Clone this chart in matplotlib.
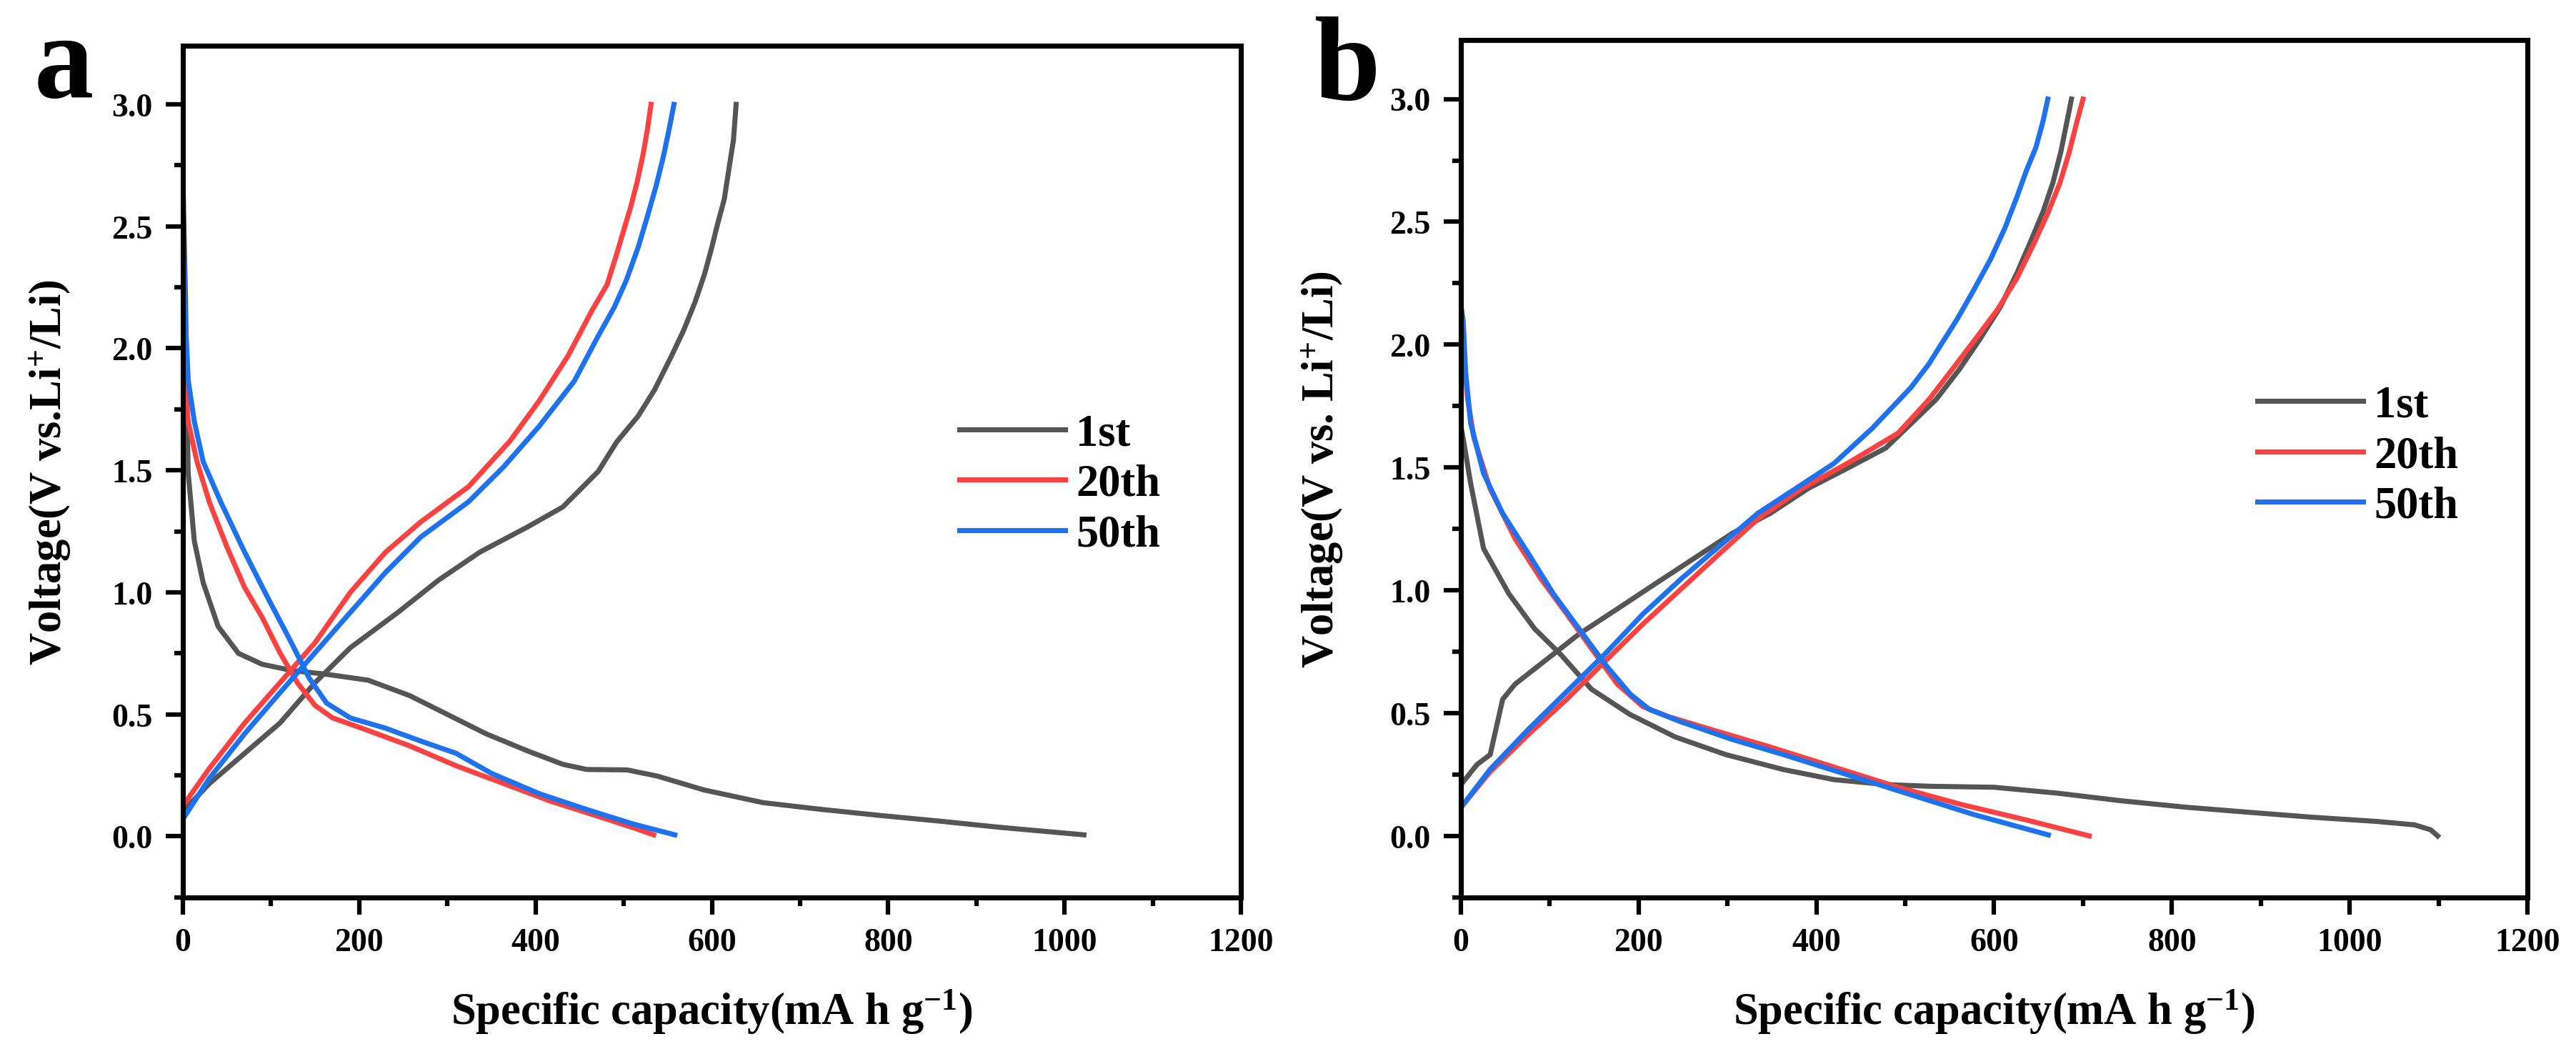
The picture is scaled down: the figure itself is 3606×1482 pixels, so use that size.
import numpy as np
import matplotlib
matplotlib.use("Agg")
import matplotlib.pyplot as plt
from matplotlib.ticker import MultipleLocator

plt.rcParams['font.family'] = ['Liberation Serif', 'DejaVu Serif']
plt.rcParams['font.weight'] = 'bold'
plt.rcParams['mathtext.fontset'] = 'custom'
plt.rcParams['mathtext.rm'] = 'Liberation Serif:bold'
plt.rcParams['mathtext.bf'] = 'Liberation Serif:bold'
plt.rcParams['mathtext.default'] = 'rm'

"""
Data read off the reference picture (capacity in mA h g-1, voltage in V)
"""
# panel a, 1st cycle
a1_dis_cap = [0.5, 3, 4.5, 6, 13, 23, 40, 63, 90, 123, 163, 210, 257, 297, 344, 391, 431, 458, 504, 538,
              591, 658, 725, 792, 859, 926, 1022]
a1_dis_v = [2.62, 2.2, 1.8, 1.49, 1.21, 1.04, 0.86, 0.75, 0.705, 0.68, 0.664, 0.64, 0.577, 0.505, 0.42, 0.35,
            0.295, 0.274, 0.272, 0.247, 0.19, 0.138, 0.11, 0.085, 0.062, 0.037, 0.006]
a1_chg_cap = [3, 30, 70, 110, 150, 190, 244, 290, 337, 391, 431, 471, 492, 516.5, 535, 554, 568, 581, 592,
              600, 606, 614, 619, 624.5, 627.5]
a1_chg_v = [0.113, 0.216, 0.34, 0.464, 0.63, 0.773, 0.918, 1.05, 1.165, 1.268, 1.35, 1.495, 1.616, 1.723, 1.83,
            1.967, 2.074, 2.19, 2.308, 2.415, 2.503, 2.61, 2.727, 2.854, 3.0]

# panel a, 20th cycle
a20_dis_cap = [0.5, 1.5, 3, 6, 16, 30, 50, 70, 90, 110, 130, 150, 170, 203, 257, 310, 364, 417, 471, 511, 534]
a20_dis_v = [2.05, 2.03, 1.82, 1.70, 1.536, 1.37, 1.186, 1.02, 0.897, 0.753, 0.629, 0.536, 0.485, 0.443, 0.371,
             0.289, 0.216, 0.144, 0.082, 0.035, 0.006]
a20_chg_cap = [1, 30, 70, 110, 150, 190, 230, 270, 324, 371, 404, 437, 464, 481, 492, 500, 508, 515, 522, 527,
               531]
a20_chg_v = [0.13, 0.278, 0.464, 0.629, 0.794, 1.0, 1.165, 1.289, 1.433, 1.62, 1.784, 1.97, 2.155, 2.26, 2.386,
             2.484, 2.58, 2.678, 2.795, 2.90, 3.0]

# panel a, 50th cycle
a50_dis_cap = [0.5, 1.5, 3, 6, 13, 23, 43, 70, 96, 123, 143, 163, 190, 230, 270, 310, 350, 404, 458, 511, 558]
a50_dis_v = [2.38, 2.3, 2.11, 1.87, 1.70, 1.536, 1.37, 1.165, 0.98, 0.794, 0.65, 0.546, 0.485, 0.443, 0.39,
             0.34, 0.258, 0.175, 0.11, 0.05, 0.006]
a50_chg_cap = [1, 30, 70, 110, 150, 190, 230, 270, 324, 364, 404, 444, 471, 489.5, 503, 516.5, 527, 537, 545,
               551.6, 557]
a50_chg_v = [0.076, 0.237, 0.42, 0.588, 0.753, 0.918, 1.082, 1.227, 1.371, 1.515, 1.68, 1.866, 2.05, 2.17,
             2.279, 2.415, 2.542, 2.669, 2.786, 2.90, 3.0]

# panel b, 1st cycle
b1_dis_cap = [0.5, 2.5, 11, 25.5, 54, 83, 112, 147, 190, 241, 298, 363, 420, 478, 528, 600, 671, 743, 815,
              887, 958, 1030, 1073, 1091, 1099]
b1_dis_v = [1.66, 1.62, 1.435, 1.17, 0.986, 0.843, 0.74, 0.597, 0.495, 0.403, 0.331, 0.27, 0.229, 0.209, 0.202,
            0.198, 0.174, 0.143, 0.117, 0.096, 0.076, 0.059, 0.045, 0.025, 0.0]
b1_chg_cap = [0.4, 18, 33, 47, 61, 90, 133, 176, 219, 262, 305, 348, 391, 435, 478, 534.5, 561, 585, 607,
              625.5, 641.6, 655, 666, 675, 682, 687]
b1_chg_v = [0.21, 0.29, 0.331, 0.556, 0.618, 0.70, 0.822, 0.924, 1.027, 1.129, 1.231, 1.313, 1.415, 1.497,
            1.579, 1.776, 1.90, 2.028, 2.154, 2.29, 2.425, 2.541, 2.658, 2.784, 2.91, 3.0]

# panel b, 20th cycle
b20_dis_cap = [0.5, 2.5, 7.5, 14.7, 32.7, 61, 90, 119, 147.5, 176, 205, 234, 291, 348, 420, 492, 564, 636, 707]
b20_dis_v = [2.02, 2.0, 1.78, 1.62, 1.415, 1.21, 1.047, 0.904, 0.76, 0.618, 0.526, 0.485, 0.423, 0.362, 0.28,
             0.198, 0.127, 0.065, 0.0]
b20_chg_cap = [1, 32.7, 76, 119, 162, 205, 248, 291, 334, 384, 435, 492, 526.5, 553, 580, 604, 625.5, 644, 660,
               674, 684.5, 692.6, 700]
b20_chg_v = [0.12, 0.26, 0.413, 0.556, 0.71, 0.863, 1.006, 1.149, 1.29, 1.415, 1.517, 1.64, 1.776, 1.90, 2.028,
             2.144, 2.27, 2.406, 2.532, 2.658, 2.784, 2.90, 3.0]

# panel b, 50th cycle
b50_dis_cap = [0.5, 2.5, 5.4, 11, 25.5, 47, 76, 104, 133, 162, 190.6, 212, 248, 305, 363, 435, 506, 578, 661]
b50_dis_v = [2.15, 2.1, 1.885, 1.68, 1.476, 1.313, 1.149, 0.986, 0.843, 0.70, 0.577, 0.515, 0.464, 0.393,
             0.331, 0.249, 0.168, 0.086, 0.004]
b50_chg_cap = [1, 32.7, 76, 119, 162, 205, 248, 291, 334, 377, 420, 463, 506, 526.5, 540, 558.6, 577, 596, 612,
               625.5, 636, 647, 655, 660.4]
b50_chg_v = [0.12, 0.27, 0.434, 0.587, 0.74, 0.904, 1.047, 1.18, 1.313, 1.415, 1.517, 1.66, 1.824, 1.921,
             1.999, 2.105, 2.222, 2.348, 2.474, 2.60, 2.706, 2.803, 2.91, 3.0]

cycle_labels = ['1st', '20th', '50th']
cycle_colors = ['#555555', '#fa4242', '#1f72ee']

panel_a = [(a1_dis_cap, a1_dis_v, a1_chg_cap, a1_chg_v),
           (a20_dis_cap, a20_dis_v, a20_chg_cap, a20_chg_v),
           (a50_dis_cap, a50_dis_v, a50_chg_cap, a50_chg_v)]
panel_b = [(b1_dis_cap, b1_dis_v, b1_chg_cap, b1_chg_v),
           (b20_dis_cap, b20_dis_v, b20_chg_cap, b20_chg_v),
           (b50_dis_cap, b50_dis_v, b50_chg_cap, b50_chg_v)]

fig = plt.figure(figsize=(12.02, 4.943), dpi=300)
ax_a = fig.add_axes([0.07099, 0.15260, 0.41071, 0.80357])
ax_b = fig.add_axes([0.56711, 0.15260, 0.41403, 0.80896])


def draw_panel(ax, curves, ylabel, ylabelpad, leg_anchor):
    for (dc, dv, cc, cv), lab, col in zip(curves, cycle_labels, cycle_colors):
        ax.plot(dc, dv, color=col, lw=1.7, label=lab, solid_joinstyle='round')
        ax.plot(cc, cv, color=col, lw=1.7, solid_joinstyle='round')

    ax.set_xlim(0, 1200)
    ax.set_ylim(-0.25, 3.24)
    ax.xaxis.set_major_locator(MultipleLocator(200))
    ax.xaxis.set_minor_locator(MultipleLocator(100))
    ax.yaxis.set_major_locator(MultipleLocator(0.5))
    ax.yaxis.set_minor_locator(MultipleLocator(0.25))
    ax.yaxis.set_major_formatter(plt.FormatStrFormatter('%.1f'))

    ax.tick_params(which='major', direction='out', length=5.7, width=1.5, labelsize=11, pad=4.5)
    ax.tick_params(which='minor', direction='out', length=2.8, width=1.5)
    for s in ax.spines.values():
        s.set_linewidth(1.7)

    ax.set_xlabel('Specific capacity(mA h g$^{-1}$)', fontsize=15, fontweight='bold', labelpad=10)
    ax.set_ylabel(ylabel, fontsize=15, fontweight='bold', labelpad=ylabelpad)

    ax.legend(loc='center left', bbox_to_anchor=leg_anchor, frameon=False, fontsize=15,
              handlelength=2.37, handletextpad=0.24, labelspacing=0.2, borderpad=0, borderaxespad=0)


draw_panel(ax_a, panel_a, 'Voltage(V vs.Li$^{+}$/Li)', 13, (0.734, 0.4848))
draw_panel(ax_b, panel_b, 'Voltage(V vs. Li$^{+}$/Li)', 15, (0.7469, 0.5146))

fig.text(48 / 3606, 1 - 136 / 1483, 'a', fontsize=40, fontweight='bold', ha='left', va='baseline')
fig.text(1840 / 3606, 1 - 139 / 1483, 'b', fontsize=40, fontweight='bold', ha='left', va='baseline')

fig.savefig('out.png', dpi=300)
